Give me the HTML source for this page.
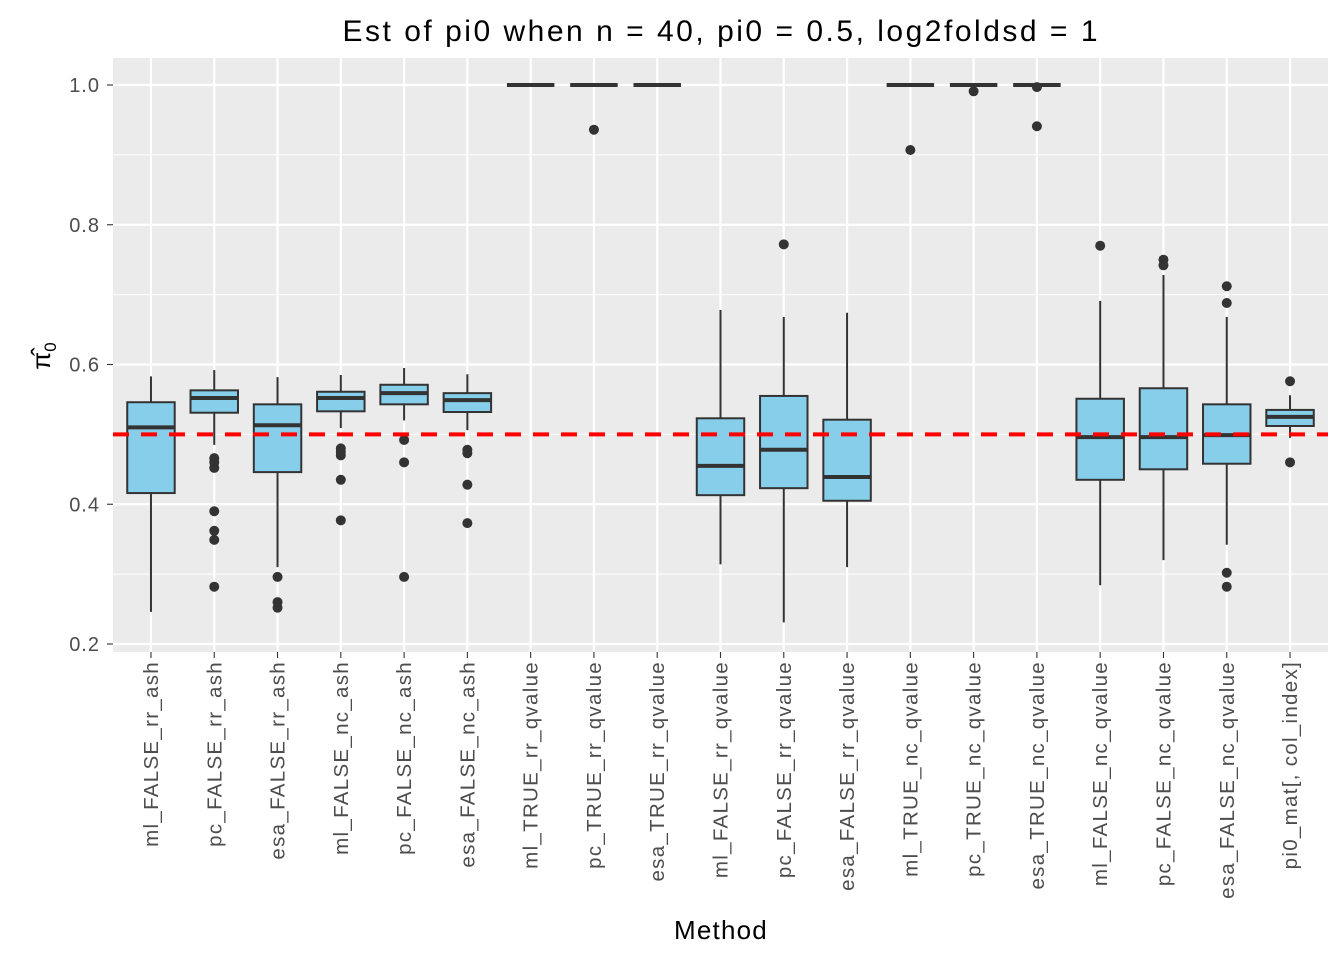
<!DOCTYPE html>
<html><head><meta charset="utf-8"><style>
html,body{margin:0;padding:0;background:#fff;}
svg text{font-family:"Liberation Sans",sans-serif;}
</style></head><body>
<svg id="chart" width="1344" height="960" xmlns="http://www.w3.org/2000/svg"></svg>
<script>
const categories=["ml_FALSE_rr_ash","pc_FALSE_rr_ash","esa_FALSE_rr_ash","ml_FALSE_nc_ash","pc_FALSE_nc_ash","esa_FALSE_nc_ash","ml_TRUE_rr_qvalue","pc_TRUE_rr_qvalue","esa_TRUE_rr_qvalue","ml_FALSE_rr_qvalue","pc_FALSE_rr_qvalue","esa_FALSE_rr_qvalue","ml_TRUE_nc_qvalue","pc_TRUE_nc_qvalue","esa_TRUE_nc_qvalue","ml_FALSE_nc_qvalue","pc_FALSE_nc_qvalue","esa_FALSE_nc_qvalue","pi0_mat[, col_index]"];
const whiskerLow=[0.246,0.485,0.310,0.509,0.520,0.506,1,1,1,0.314,0.231,0.310,1,1,1,0.284,0.320,0.342,0.495];
const q1=[0.416,0.531,0.446,0.533,0.543,0.532,1,1,1,0.413,0.423,0.405,1,1,1,0.435,0.450,0.458,0.512];
const median=[0.510,0.552,0.513,0.552,0.559,0.549,1,1,1,0.455,0.478,0.439,1,1,1,0.496,0.496,0.499,0.525];
const q3=[0.546,0.563,0.543,0.561,0.571,0.559,1,1,1,0.523,0.555,0.521,1,1,1,0.551,0.566,0.543,0.535];
const whiskerHigh=[0.583,0.592,0.582,0.585,0.595,0.586,1,1,1,0.678,0.668,0.674,1,1,1,0.691,0.728,0.668,0.556];
const outliers=[[],[0.466,0.460,0.452,0.390,0.362,0.349,0.282],[0.296,0.260,0.252],[0.480,0.475,0.470,0.435,0.377],[0.492,0.460,0.296],[0.478,0.473,0.428,0.373],[],[0.936],[],[],[0.772],[],[0.907],[0.991],[0.997,0.941],[0.770],[0.750,0.742],[0.712,0.688,0.302,0.282],[0.576,0.460]];
const yTicks=[0.2,0.4,0.6,0.8,1.0];
const yMinor=[0.3,0.5,0.7,0.9];
const refLine=0.5;

const svg=document.getElementById('chart');
const NS="http://www.w3.org/2000/svg";
const PL=113,PR=1328,PT=58,PB=652;
const step=(PR-PL)/(categories.length-1+1.2);
const xs=i=>PL+step*(0.6+i);
const ys=v=>644-(v-0.2)*698.75;
function mk(tag,attrs,parent){const e=document.createElementNS(NS,tag);for(const k in attrs)e.setAttribute(k,attrs[k]);(parent||svg).appendChild(e);return e;}

const panel=mk('rect',{x:PL,y:PT,width:PR-PL,height:PB-PT,fill:'#EBEBEB'});


yMinor.forEach(v=>{mk('line',{x1:PL,x2:PR,y1:ys(v),y2:ys(v),stroke:'#fff','stroke-width':1.1});});
yTicks.forEach(v=>{
  mk('line',{x1:PL,x2:PR,y1:ys(v),y2:ys(v),stroke:'#fff','stroke-width':2.2});
  mk('line',{x1:PL-6,x2:PL,y1:ys(v),y2:ys(v),stroke:'#333','stroke-width':1.1});
  const t=mk('text',{x:PL-13,y:ys(v)+7,'text-anchor':'end','font-size':20,'letter-spacing':1,fill:'#4D4D4D'});
  t.textContent=v.toFixed(1);
  
  
});
categories.forEach((c,i)=>{
  const x=xs(i);
  mk('line',{x1:x,x2:x,y1:PT,y2:PB,stroke:'#fff','stroke-width':2.2});
  mk('line',{x1:x,x2:x,y1:PB,y2:PB+6,stroke:'#333','stroke-width':1.1});
  const t=mk('text',{x:0,y:0,'text-anchor':'end','font-size':20.5,'letter-spacing':1.3,fill:'#4D4D4D',transform:`translate(${x+7},${PB+9}) rotate(-90)`});
  t.textContent=c;
  
  
});
const bw=step*0.75;
categories.forEach((c,i)=>{
  const x=xs(i);
  const g=mk('g',{});
  
  
  mk('line',{x1:x,x2:x,y1:ys(whiskerHigh[i]),y2:ys(q3[i]),stroke:'#333','stroke-width':2},g);
  mk('line',{x1:x,x2:x,y1:ys(q1[i]),y2:ys(whiskerLow[i]),stroke:'#333','stroke-width':2},g);
  mk('rect',{x:x-bw/2,y:ys(q3[i]),width:bw,height:Math.max(0,ys(q1[i])-ys(q3[i])),fill:'#87CEEB',stroke:'#333','stroke-width':2},g);
  mk('line',{x1:x-bw/2,x2:x+bw/2,y1:ys(median[i]),y2:ys(median[i]),stroke:'#333','stroke-width':4},g);
  outliers[i].forEach(o=>{
    const p=mk('circle',{cx:x,cy:ys(o),r:5,fill:'#333'},g);
    
    
  });
});
const rl=mk('line',{x1:PL,x2:PR,y1:ys(refLine),y2:ys(refLine),stroke:'#FF0000','stroke-width':4,'stroke-dasharray':'16,12'});


const title=mk('text',{x:720,y:41,'text-anchor':'middle','font-size':30,textLength:755,lengthAdjust:'spacing',fill:'#000'});
title.textContent='Est of pi0 when n = 40, pi0 = 0.5, log2foldsd = 1';


const xt=mk('text',{x:721,y:939,'text-anchor':'middle','font-size':26,'letter-spacing':1.2,fill:'#000'});
xt.textContent='Method';


const yt=mk('text',{x:0,y:0,'text-anchor':'middle','font-size':26,fill:'#000',transform:'translate(50,356) rotate(-90)'});
yt.innerHTML='π̂<tspan font-size="17" dy="6">0</tspan>';


</script>
</body></html>
